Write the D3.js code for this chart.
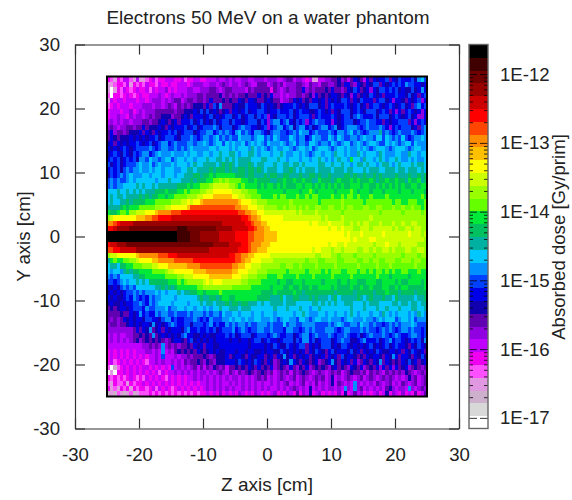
<!DOCTYPE html>
<html>
<head>
<meta charset="utf-8">
<script src="https://cdn.jsdelivr.net/npm/d3@7"></script>
<style>
body { margin: 0; background: #fff; }
text, .tick text { font-family: "Liberation Sans", Arial, sans-serif; fill: #222; }
</style>
</head>
<body>
<script>
var titleText = "Electrons 50 MeV on a water phantom";
var xLabel = "Z axis [cm]";
var yLabel = "Y axis [cm]";
var barLabel = "Absorbed dose [Gy/prim]";
var axisTicks = [-30, -20, -10, 0, 10, 20, 30];
var doseRange = [7e-18, 2.7e-12];
var doseMajors = [1e-17, 1e-16, 1e-15, 1e-14, 1e-13, 1e-12];
var doseMinorSteps = [2, 3, 4, 5, 6, 7, 8, 9];

// palette from lowest band (0) to highest (t), one colour per band
var bandColors = ["#ffffff", "#d8d8d8", "#ccb0cc", "#e098e0", "#ff50ff", "#f000f0", "#c000ff", "#9000e0",
    "#6000b0", "#1000b0", "#0000e8", "#0040ff", "#0090ff", "#00c8ff", "#00b0a0", "#00c060",
    "#00e838", "#66ff00", "#99ff00", "#ccff00", "#ffff00", "#ffc000", "#ff8c00", "#ff4500",
    "#ff0000", "#cc0000", "#990000", "#700000", "#400000", "#000000"];

// dose band per cell, base 30, top row first, left to right
var doseRows = [
"5435466436 3345645566 6556455665 5666766767 6677667776 7776678867 7656336677 8897868a98 6a8a9aab8a 9baaab9cdb",
"3345546354 5465546556 5566656777 6677678767 7678766888 6787867778 8768776887 7898aa87a9 8a9bb8a9ab abacbbaa9a",
"3035465456 5564656675 6566677667 7788767887 7776878888 8587678778 8a78788898 a8878a9ba8 9a7a9bbaba b9a99b9aca",
"4055456545 6556667656 7667677788 7888897878 7889888a89 8a77676778 87897a8989 aa98a97a89 a9ba9a8aaa baa9b9a8ab",
"3656656665 6656777676 7886788788 78a8889898 8a98aa9889 a9886778a9 a898aa9a8a 9a9bba8a9b aaa8abb9a7 aa98a9ab7a",
"4565666566 6777677678 7687878999 8a8b9c8889 a99baaa9ba 9a989aaaba 9a9bbb9a8a baaaba9ab9 a8abba9aba 9ab9a8bcab",
"5666566756 7677788888 8788999a9b 9b9a989a8a a9ab9aabba 9aabaaab9a baa99aba9a 8a9bbb9aba 9bbb9aba8a 7a8aba9a7a",
"5667665767 7678788999 7889a98aaa 9ab9a9abb9 ab9abb9bab 7a9bbbab9a bbba8abaaa ba9abb9bcb aaab9bbb9a ba9ab9a77a",
"6767677677 7887889a98 9a8aaab9ab 9a9b9abb9b aa9abbb9ba 7bccabca9b ab7abcbbaa 7a9abbb9ab bcbbaa8a9a abbb8a7aba",
"7876778878 8a8999a98a 9aaab9ab9a bbbcb9bbb9 abcbbaa9ab 7abccabc9b ccab9abcca bc9abcccba bcbbbcba7a babbb9a8bc",
"8a78878999 a8a98a9aab ab9abbb9ab bccabcbcba cdbcbaccba 9bccbbabcb dccabcbbbc baccbcdbcb abcccebcba bcbbbcbabc",
"8a98999a9a 9a9aab9abb ba9bbbcbab ccbcdbcbcb bdcccbcddb cbdcbbbdcb ccabdccbbd cbdcbbccbc dccbddbdcb cbdbabccdc",
"9a8a9a9aab a9ab9abcca bcbbbccbcc dcbcddbdcd ccdbcdcdcb dcccdcbcdb ccbddcbccb dcbcddbcdc bcddcbbdcd cbcddbdccc",
"a9a9aba9ab bbbcbabccb bcbcbcdccc ccddcdddcd cdddcedcdc bcdccddcbc ddcdbcdddc bcddcdccdc dcbcdddcbc dddcbcddcc",
"9aba9ba9ba bccabcdccc dcccdcddcc ddcddeddee dcddeedcdd dcddedccdd cdcbcddcdd ceddcdcced cdddcedccc ddcceddcdd",
"abab9abab9 ccbdccbcdd bcddcddcdd deddeedede deeeedddee dddeddcddd cddcddedcd cdeddcgddc eddcdedcdd edccdcdccd",
"b9ab9abbbc dccdbcdccc dcdddcdedd eeeedefefe deeefedeed ddeddeedee deddddeedd eddeddcdee deddcdeedc dedddedeed",
"abab9bcbcc dccdcddcdd dccddeedee eefefffefe effeffefed eeeddeefed edeeedeeee deeedeeddd edeeeddeee deedeeeded",
"9babcbcdcc cddcdddcdd dcddeeeffe ffgfgggggg fffeffeeef effeeffeee feeffefeef eeeeffefee feefefeeee feeefeefef",
"bcbcbbcdcd dddddcddde dddeeefeff fgghhihihh hhggffgfff feeffgffgf fgffeegfff efgfffgfgf ffgfeffgff gffegffgef",
"bcbccdddde deddedeeee eefffgfggh hhijjjjjii hghggggfgf ggfgfgfffg gfggfgfgfg fgfgffgggf ggffgfgfgf gfgffggfgg",
"dddeddeded edeeefffgf ffgghghhhi ijjkkkkkkj jjiihhhggg gggggfgggg fgghgfgggg gfgggghgfg ggfgggfggg gfgggfgggf",
"dedeedeeee fefeffggfg ghhhhiiijj kkkllllllk kjjiihhhgg gghghhgggh gghghhgggg hgghghhghg gghgggghgg gggggggghg",
"deddeefeff ffggghhhhh iiijjkjkkl mmmmmmmmmm mlkkkjjiii hhhhhhhihh hhhhhhghhh hhhihhhhhh ghhhhhhhhg hhgghhhggh",
"eeeefgfggg hhhhhiiijj kkkkklnnnn nnnnnnnnnn mmllkkkjji iiihhihiih ihihhiihhi ihhihiihhh iihhiihhhi hhihhihhgh",
"gffghhgiij jjkkklmmmm nnnooooooo oooooooooo onnmmllkkj jjjjjjjjji jiiiijiiii iiihiiiiii iiiiihiiii iihiiiiihi",
"ijkkkkkkkl llmmnnoooo pppppppppp pppppppppp ppoonmmlkk kkkkkjjjjj jjjjjjjiji iiijiiiiii iijiiiiiii iiiiiiiiii",
"mmnoppppqq qqqqqqqqqq qqqqqqqqqq qqqqqqpppp pppoonmmll kkkkkkkkkk kkkjkkjjjk jjjjiijiji jjiiijiiij iijiijjiii",
"oopqqqqrrr rrrrrrrrrr rrsssrrrrr rrrrqqqqqp ppppoonmml lkkkkkkkkk kkkkkkkkkj kkjkjjjiij jjijjjjjji jiijjijjii",
"tttttttttt tttttttttt ttssssrrrq qqqqqppppp oooonnmmml lllkkkkkkk kkkkkkkkkk kkkkjkjjjk jjjjjjkjjj jjjjkjjjij",
"tttttttttt tttttttttt ttssssrrrq qqqqqppppp oooonnmmml lllkkkkkkk kkkkkkkkkk kkkkkkjkjj jjkkjjjjjj jjjjjjjjji",
"oppqqqrrrr rrrrrrrrrr rrrrrrrrrr rrrqqqqqpp ppoonmmmll lkkkkkkkkk kkkkkkkkkj kkjjkjjjjj jjjijjjkjj jijjjjjiii",
"nnoopppppq qqqqqqqqqq qqqqqqqqqq qqpppppppp pooonmmlll kkkkkkkkkk kkkkjkkjjj ijjijjjjii jjijiijjij iiijjiijji",
"ijjkkkkkkl mmmmmmnnno oopppppppp ppppppppoo nnmmllkkkk kjjjjjjjjj jjjjjiijjj iihiiiihii iiihiiiiii iihiiiihii",
"eghgghhiij kkkkllmmmm mnnnnnnooo oooooooooo nnmllkkkjj jjiiiiiiii iihiiihhii iihhiiiihh iihiihhiii hhiiihiihh",
"deedffgghh hiiijjkkkl lllllmmmmn nnnnnnnnnm mllkkjjjii iiiihhiihh ihhhhihhhh hihhhhhhih hhhhihhhih hhhhhhihhh",
"dcddcefeff gggghhhhij jkkkkkklll lmmmmmmmml lkkkjjjiii hhhhhhghhh hhghhhhghg hhhgghhhgh hghghhghgh gghhggghgg",
"cbcbddddee ffgggggghh hhiijjjkkk kklllllllk kkjjiiihhh ggghhggggh gggghggggg hggggghggg gggghgggfg ggggfggggg",
"bbabcdcdde dedffffffg gghghiiiii jkjkkkjjjj jjiihhhhgg gggfggffgg gfgggggfgg ggfggfggff fgggffgggg fgffggggfg",
"a9a9bcbcbd dddddeefef efgggggghh iiiiiiiiih hhhhhggggg gfgggffgff gffgffgggg fgffffgffg ffgfffggff gfggfffffg",
"9a9a9abbcb cbcccdcdcd ddedeeffgg fgggghgggg ggggggggff ffgfffffgf feffffffff fefffffeff fffefffgff feffffefff",
"a9a99abacb abacbccddd dcddddddef eeffefggff gggggggfff feeefdeeff eeefefeeed efdeeeeefe defeeefeed feeeeedeef",
"9a99a9aabb cbacbcdddd cddddcddde deedeeefef feffeeeded deeeedeeed ddddeedede deddeeeddd edeeedddde edeedeedee",
"8989aa9abb bacbbcccdb ccddcddcdd cdcddeddee edeeeddddd ddedddeddd eddcddeddd ddddddeddd edddeddedd dedddeedde",
"8888988a9a cabaacbccb bcbbbcbccc bcbccbdccd dcdddcddcd ddcdddddcd dedcccddcd dcddcdedcd ddcddcedcd cdddcdcedc",
"87878a9a9a a9bbaa9bcc abaabbbcba bacbbbccdc ddcdccddcc cdcbcddccb ddcbcddccd cccbcddccc dccbcdcddd bcddcdbccc",
"7887889a9a 9aa9c9a9ab cbaabb9bbb abcabaacbc bccbcbbccc bcbbbdbccb bccccbbbbc bcdcbbccbd ccbcbbabcb cbcccdcbbb",
"777777778a 8a9c89a8a9 aaa9bcaaba abab9abbbc abcbabbccb bcbbbaccbb abcbcbbbcc cbabccbbbc bcbbabcbcb abccbcbbab",
"6767667788 9898c89a9a 9a9bcaa99a 9a99aaabab 9abbb9abbb abcbaabb9a bccabcbbbc babbcbaab9 abcbbbcbab cbaabccbab",
"6767676789 7898989878 9aa98ab9a9 a9a9aaaa9a a9aa9abb9a baa9abbb9b accab9abbb 9abcbb99ab caaab9abca bba9abab9c",
"6666666666 6778787c78 7878898a9a 8aa99aaaaa aaaa9aaaa9 a9ba99ba9a bb8a9a9bbb 9a9bba9a9a 9ab9a9ab9a baa98a9ba9",
"5656565656 6677676c67 68989898a9 89a9a99aaa 9aa9aa99a9 aa99ba9a9a 9a8a9ba98a b9aaa9b9a8 a9a9ba99aa 9a8a9ba9a8",
"5656565656 5656676b66 6767787888 9878999a89 aa98a99aa8 9a8a9c9a89 a9a89a9a8a 9a8b9aa989 8a9aa98a9c a8aa98a9b9",
"5645656565 6546676766 7676878898 7987999aaa 9ba9a9ba98 a9789a9ca9 8a989a789a c98a9a8a78 a98a9c8a98 98a9b9a89a",
"4024565656 5665656565 b676767868 6879878688 9898a98a89 8a78987a87 98a7898987 9a8987a98a 7898a7a8a7 a89a789878",
"0305565656 5656564656 6767676767 7676787687 6878987898 7867878687 8987678767 8786789887 8687876878 7879876787",
"5454545654 5465656546 5656566767 6767676767 7676767878 6767876786 7876787867 9676787678 6787678787 6767978678",
"4354453545 5656565656 5656565656 6767676676 7676767676 6767678676 7867686767 9687676c76 7676876786 7687678678",
"5343545354 5545646565 4565656565 6767676767 6676767676 7667676787 6769676767 7676c76c78 6767676897 6776c76787",
"2324323423 4445454545 4545454545 5656575656 5765657656 5675657658 5769567565 6575956867 5656756957 6575658568"
];

var svg = d3.select("body")
    .append("svg")
    .attr("width", 572)
    .attr("height", 500);

// Escalas
var xScale = d3.scaleLinear().domain([-30, 30]).range([75, 459]);
var yScale = d3.scaleLinear().domain([-30, 30]).range([428.5, 44.5]);
var doseScale = d3.scaleLog().domain(doseRange).range([428.5, 44.5]);

var cells = doseRows.map(r => r.replace(/ /g, ""));
var colBand = d3.scaleBand().domain(d3.range(cells[0].length)).range([xScale(-25), xScale(25)]);
var rowBand = d3.scaleBand().domain(d3.range(cells.length)).range([yScale(25), yScale(-25)]);
var colorScale = d3.scaleOrdinal().domain(d3.range(bandColors.length)).range(bandColors);
var barBand = d3.scaleBand().domain(d3.range(bandColors.length)).range([44.5, 428.5]);

var heat = svg.append("g").attr("shape-rendering", "crispEdges");
cells.forEach((row, r) => {
    heat.selectAll("rect.r" + r)
        .data(row.split(""))
        .enter()
        .append("rect")
        .attr("class", "r" + r)
        .attr("x", (d, c) => colBand(c))
        .attr("y", rowBand(r))
        .attr("width", colBand.bandwidth() + 0.5)
        .attr("height", rowBand.bandwidth() + 0.5)
        .attr("fill", d => colorScale(parseInt(d, 30)));
});

// moldura do mapa
svg.append("rect")
    .attr("x", xScale(-25))
    .attr("y", yScale(25))
    .attr("width", xScale(25) - xScale(-25))
    .attr("height", yScale(-25) - yScale(25))
    .attr("fill", "none")
    .attr("stroke", "#000")
    .attr("stroke-width", 2);

// Eixos
function styleAxis(g) {
    g.selectAll("path").attr("stroke", "#333").attr("stroke-width", 1.2);
    g.selectAll("line").attr("stroke", "#333").attr("stroke-width", 1.2);
    g.selectAll("text").style("font-size", "18.6px").attr("fill", "#222");
}

var plainNumber = d => String(d);

svg.append("g")
    .attr("transform", "translate(75,0)")
    .call(d3.axisLeft(yScale).tickValues(axisTicks).tickSizeInner(-10).tickSizeOuter(0).tickPadding(15).tickFormat(plainNumber))
    .call(styleAxis);
svg.append("g")
    .attr("transform", "translate(459,0)")
    .call(d3.axisRight(yScale).tickValues(axisTicks).tickSizeInner(-10).tickSizeOuter(0).tickFormat(""))
    .call(styleAxis);
svg.append("g")
    .attr("transform", "translate(0,428.5)")
    .call(d3.axisBottom(xScale).tickValues(axisTicks).tickSizeInner(-10).tickSizeOuter(0).tickPadding(19).tickFormat(plainNumber))
    .call(styleAxis);
svg.append("g")
    .attr("transform", "translate(0,44.5)")
    .call(d3.axisTop(xScale).tickValues(axisTicks).tickSizeInner(-10).tickSizeOuter(0).tickFormat(""))
    .call(styleAxis);

// barra de cores
svg.append("g")
    .attr("shape-rendering", "crispEdges")
    .selectAll("rect")
    .data(bandColors)
    .enter()
    .append("rect")
    .attr("x", 469)
    .attr("y", (d, i) => barBand(bandColors.length - 1 - i))
    .attr("width", 19)
    .attr("height", barBand.bandwidth() + 0.5)
    .attr("fill", d => d);

var doseMinors = [];
doseMajors.forEach(m => doseMinorSteps.forEach(s => doseMinors.push(m * s)));
doseMinors = doseMinors.filter(d => d > doseRange[0] && d < doseRange[1]);

[[469, d3.axisRight], [488, d3.axisLeft]].forEach(side => {
    svg.append("g")
        .attr("transform", "translate(" + side[0] + ",0)")
        .call(side[1](doseScale).tickValues(doseMinors).tickSize(4).tickFormat(""))
        .call(g => g.select("path").remove())
        .call(g => g.selectAll("line").attr("stroke", "#000").attr("stroke-width", 0.8));
    svg.append("g")
        .attr("transform", "translate(" + side[0] + ",0)")
        .call(side[1](doseScale).tickValues(doseMajors).tickSize(8).tickFormat(""))
        .call(g => g.select("path").remove())
        .call(g => g.selectAll("line").attr("stroke", "#000").attr("stroke-width", 0.8));
});

svg.append("rect")
    .attr("x", 469)
    .attr("y", 44.5)
    .attr("width", 19)
    .attr("height", 384)
    .attr("fill", "none")
    .attr("stroke", "#666")
    .attr("stroke-width", 1.4);

svg.append("g")
    .attr("transform", "translate(488,0)")
    .call(d3.axisRight(doseScale)
        .tickValues(doseMajors)
        .tickSize(0)
        .tickPadding(12)
        .tickFormat(d => "1E" + Math.round(Math.log10(d))))
    .call(g => g.select("path").remove())
    .call(g => g.selectAll("text").style("font-size", "18.6px").attr("fill", "#222"));

// titulo e rotulos
svg.append("text")
    .text(titleText)
    .attr("x", 268)
    .attr("y", 24)
    .attr("text-anchor", "middle")
    .style("font-size", "19px");

svg.append("text")
    .text(xLabel)
    .attr("x", 267)
    .attr("y", 491)
    .attr("text-anchor", "middle")
    .style("font-size", "19px");

svg.append("text")
    .text(yLabel)
    .attr("transform", "translate(30,236.5) rotate(-90)")
    .attr("text-anchor", "middle")
    .style("font-size", "18.6px");

svg.append("text")
    .text(barLabel)
    .attr("transform", "translate(564.5,237) rotate(-90)")
    .attr("text-anchor", "middle")
    .style("font-size", "18.6px");
</script>
</body>
</html>
